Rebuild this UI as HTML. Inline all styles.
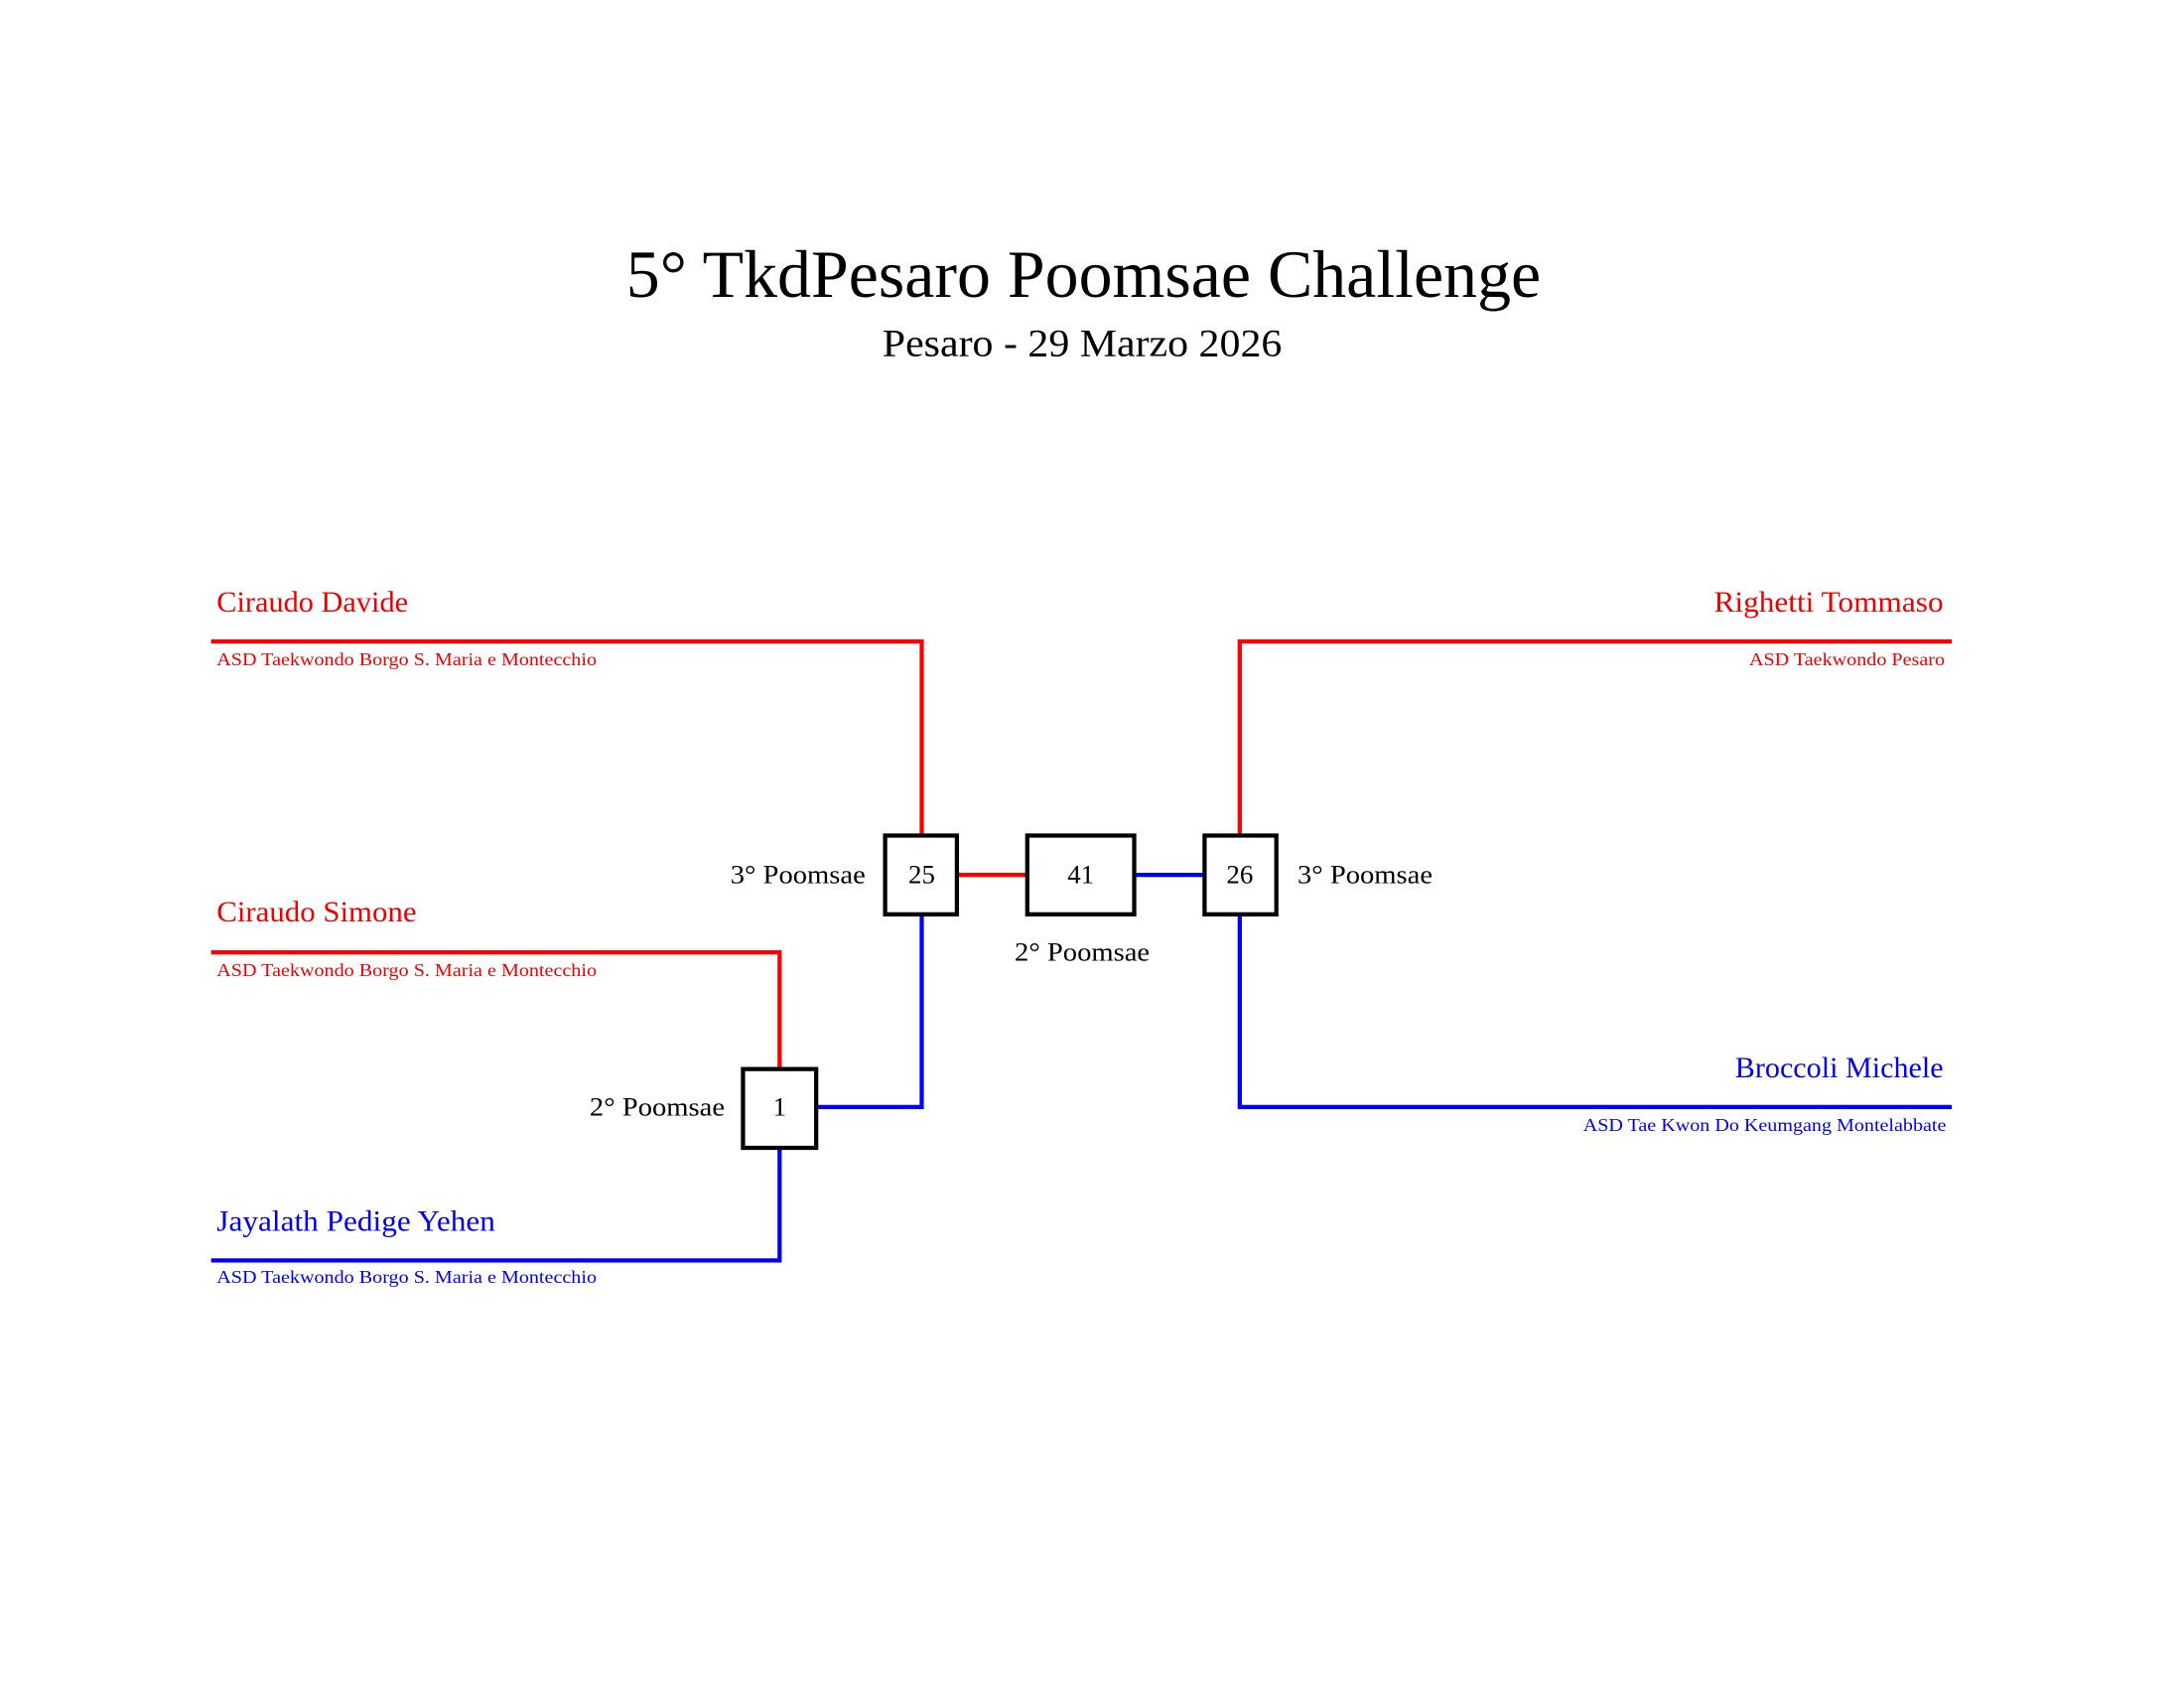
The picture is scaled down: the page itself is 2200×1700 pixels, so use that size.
<!DOCTYPE html>
<html><head><meta charset="utf-8"><style>html,body{margin:0;padding:0;background:#fff}svg{display:block}</style></head>
<body>
<svg width="2200" height="1700" viewBox="0 0 1552 1200" preserveAspectRatio="none" xmlns="http://www.w3.org/2000/svg" font-family="'Liberation Serif', serif">
<rect width="1552" height="1200" fill="#fff"/>
<text x="445" y="211" font-size="48" textLength="650" lengthAdjust="spacingAndGlyphs">5° TkdPesaro Poomsae Challenge</text>
<text x="627" y="253" font-size="28" textLength="284" lengthAdjust="spacingAndGlyphs">Pesaro - 29 Marzo 2026</text>
<g fill="none" stroke-width="3">
<polyline points="150,456 655,456 655,594" stroke="#f00"/>
<polyline points="150,677 554,677 554,760" stroke="#f00"/>
<line x1="680" y1="622" x2="730" y2="622" stroke="#f00"/>
<polyline points="1387,456 881,456 881,594" stroke="#f00"/>
<polyline points="150,896 554,896 554,816" stroke="#00f"/>
<polyline points="580,787 655,787 655,650" stroke="#00f"/>
<line x1="806" y1="622" x2="856" y2="622" stroke="#00f"/>
<polyline points="881,650 881,787 1387,787" stroke="#00f"/>
</g>
<g fill="#fff" stroke="#000" stroke-width="3">
<rect x="629" y="594" width="51" height="56"/>
<rect x="730" y="594" width="76" height="56"/>
<rect x="856" y="594" width="51" height="56"/>
<rect x="528" y="760" width="52" height="56"/>
</g>
<g font-size="19" text-anchor="middle">
<text x="655" y="628">25</text>
<text x="768" y="628">41</text>
<text x="881" y="628">26</text>
<text x="554" y="793">1</text>
</g>
<g font-size="19">
<text x="519" y="628" textLength="96" lengthAdjust="spacingAndGlyphs">3° Poomsae</text>
<text x="922" y="628" textLength="96" lengthAdjust="spacingAndGlyphs">3° Poomsae</text>
<text x="721" y="683" textLength="96" lengthAdjust="spacingAndGlyphs">2° Poomsae</text>
<text x="419" y="793" textLength="96" lengthAdjust="spacingAndGlyphs">2° Poomsae</text>
</g>
<g font-size="21" lengthAdjust="spacingAndGlyphs">
<text x="154" y="435" fill="#e00" textLength="136" lengthAdjust="spacingAndGlyphs">Ciraudo Davide</text>
<text x="154" y="655" fill="#e00" textLength="142" lengthAdjust="spacingAndGlyphs">Ciraudo Simone</text>
<text x="154" y="875" fill="#00e" textLength="198" lengthAdjust="spacingAndGlyphs">Jayalath Pedige Yehen</text>
<text x="1218" y="435" fill="#e00" textLength="163" lengthAdjust="spacingAndGlyphs">Righetti Tommaso</text>
<text x="1233" y="766" fill="#00e" textLength="148" lengthAdjust="spacingAndGlyphs">Broccoli Michele</text>
</g>
<g font-size="13">
<text x="154" y="473" fill="#e00" textLength="270" lengthAdjust="spacingAndGlyphs">ASD Taekwondo Borgo S. Maria e Montecchio</text>
<text x="154" y="694" fill="#e00" textLength="270" lengthAdjust="spacingAndGlyphs">ASD Taekwondo Borgo S. Maria e Montecchio</text>
<text x="154" y="912" fill="#00e" textLength="270" lengthAdjust="spacingAndGlyphs">ASD Taekwondo Borgo S. Maria e Montecchio</text>
<text x="1243" y="473" fill="#e00" textLength="139" lengthAdjust="spacingAndGlyphs">ASD Taekwondo Pesaro</text>
<text x="1125" y="804" fill="#00e" textLength="258" lengthAdjust="spacingAndGlyphs">ASD Tae Kwon Do Keumgang Montelabbate</text>
</g>
</svg>
</body></html>
